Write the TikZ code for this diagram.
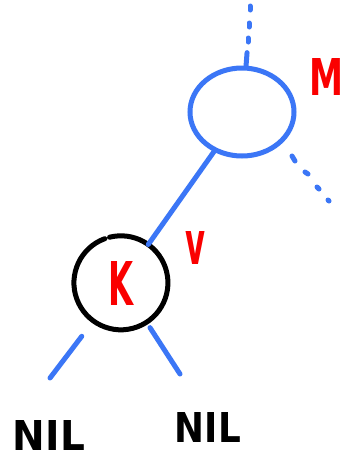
\documentclass[tikz,border=0pt]{standalone}
\usepackage{fontspec}
\setmainfont{DejaVu Sans}
\usetikzlibrary{shapes.geometric}
\definecolor{penblue}{RGB}{59,118,246}
\definecolor{penred}{RGB}{250,0,0}
\begin{document}
\begin{tikzpicture}[x=1pt,y=1pt,
  blueline/.style={draw=penblue,line width=5pt,line cap=round},
  blackline/.style={draw=black,line width=5pt,line cap=round},
  redlabel/.style={text=penred,font=\bfseries,inner sep=0pt},
  niltext/.style={text=black,font=\bfseries,inner sep=0pt}]
\fill[white] (0,0) rectangle (347,-461);
\useasboundingbox (0,0) rectangle (347,-461);
% M node
\node[ellipse, draw=penblue, line width=5pt, minimum width=104pt, minimum height=88pt, inner sep=0pt] (M) at (242,-112) {};
\node[redlabel] (Mlabel) at (327,-77) {\resizebox{34pt}{37pt}{M}};
% K node
\node[circle, minimum size=94pt, inner sep=0pt, redlabel] (K) at (121,-283) {\resizebox{25pt}{44pt}{K}};
\draw[blackline] (K.110) arc[start angle=110, end angle=464, radius=47pt];
\node[redlabel] (vlabel) at (195,-248) {\resizebox{20pt}{33pt}{v}};
% NIL nodes
\node[niltext] (nilL) at (49,-435) {\resizebox{72pt}{30pt}{NIL}};
\node[niltext] (nilR) at (208,-427) {\resizebox{66pt}{30pt}{NIL}};
\coordinate (nl) at (50,-378);
\coordinate (nr) at (180,-374);
% connectors
\draw[blueline] (M) -- (K);
\draw[blueline, shorten <=19pt] (K.234) -- (nl);
\draw[blueline, shorten <=6pt] (K.303) -- (nr);
% dotted continuation above M
\draw[blueline] (M.85) -- ++(1,13);
\draw[blueline] (248,-38) -- (248,-42);
\draw[blueline] (249,-23) -- (249,-27);
\draw[blueline] (250,-6) -- (250,-10);
% dotted continuation lower right of M
\draw[blueline] (292,-156) -- (295,-161);
\draw[blueline] (305,-172) -- (308,-174);
\draw[blueline] (317,-187) -- (319,-189);
\draw[blueline] (328,-200) -- (329,-201);
\end{tikzpicture}
\end{document}
